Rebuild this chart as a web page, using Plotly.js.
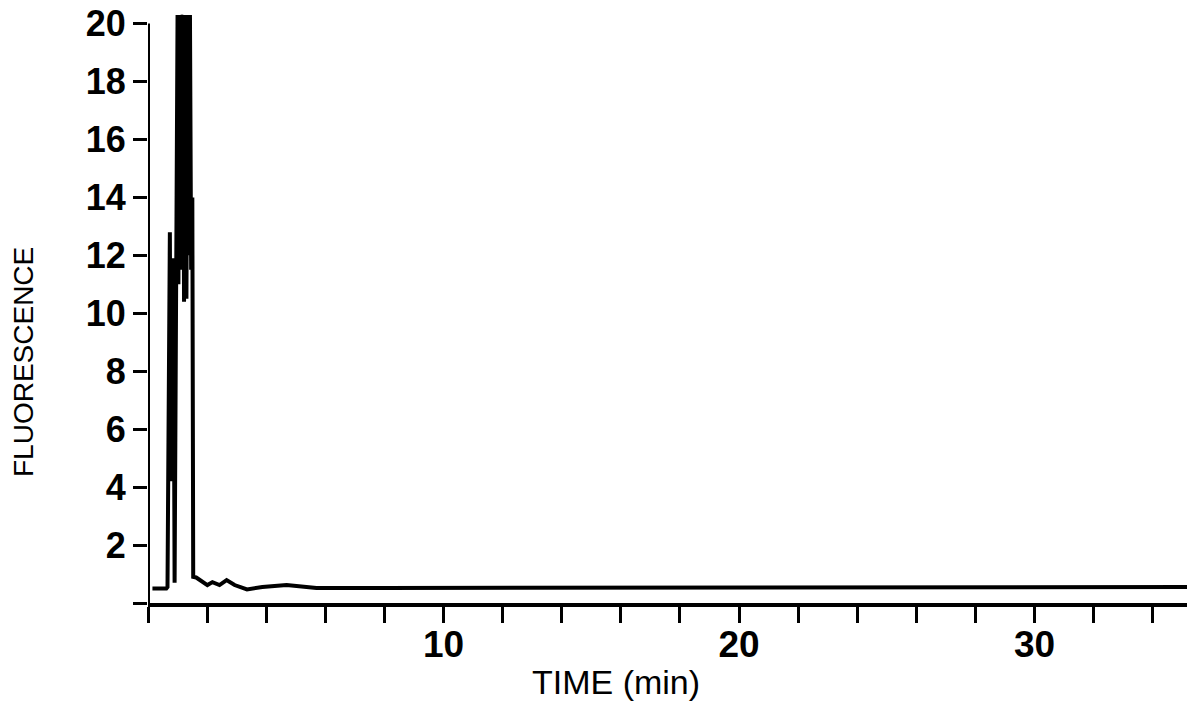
<!DOCTYPE html>
<html>
<head>
<meta charset="utf-8">
<script src="https://cdn.plot.ly/plotly-3.0.1.min.js"></script>
<style>html,body{margin:0;padding:0;background:#fff;}#chart{width:1187px;height:715px;}</style>
</head>
<body>
<div id="chart"></div>
<script>
// Time (min) and fluorescence
const timeMin = [0.15, 0.62, 0.66, 0.74, 0.77, 0.80, 0.83, 0.86, 0.90, 0.97, 1.00, 1.03, 1.06, 1.09, 1.12, 1.15, 1.18, 1.22, 1.26, 1.30, 1.34, 1.38, 1.42, 1.46, 1.50, 1.53,
  1.63, 2.01, 2.18, 2.42, 2.66, 2.93, 3.35, 3.87, 4.69, 5.13, 5.70, 8.0, 12.0, 16.0, 20.0, 24.0, 28.0, 32.0, 35.2];
const fluorescence = [0.5, 0.5, 0.55, 12.8, 4.2, 11.8, 5.5, 11.9, 0.7, 12.2, 20.3, 11.0, 20.3, 11.5, 20.3, 19.4, 20.3, 10.4, 20.3, 10.5, 20.3, 12.0, 20.3, 11.5, 14.0, 0.9,
  0.88, 0.62, 0.72, 0.62, 0.79, 0.62, 0.47, 0.55, 0.62, 0.58, 0.52, 0.52, 0.52, 0.53, 0.53, 0.54, 0.55, 0.55, 0.55];

const xTickVals = [0, 2, 4, 6, 8, 10, 12, 14, 16, 18, 20, 22, 24, 26, 28, 30, 32, 34];
const xTickText = ['', '', '', '', '', '10', '', '', '', '', '20', '', '', '', '', '30', '', ''];
const yTickVals = [0, 2, 4, 6, 8, 10, 12, 14, 16, 18, 20];
const yTickText = ['', '2', '4', '6', '8', '10', '12', '14', '16', '18', '20'];

const xTitle = 'TIME (min)';
const yTitle = 'FLUORESCENCE';

const trace = {
  x: timeMin,
  y: fluorescence,
  type: 'scatter',
  mode: 'lines',
  line: {color: '#000', width: 4, shape: 'linear'},
  hoverinfo: 'x+y',
  showlegend: false
};

const fontFam = 'Liberation Sans, Arial, Helvetica, sans-serif';

const layout = {
  width: 1187,
  height: 715,
  margin: {l: 148, r: 0, t: 12, b: 112, pad: 0},
  paper_bgcolor: '#fff',
  plot_bgcolor: '#fff',
  showlegend: false,
  xaxis: {
    range: [0, 35.16],
    tickmode: 'array',
    tickvals: xTickVals,
    ticktext: xTickText,
    ticks: 'outside',
    ticklen: 16,
    tickwidth: 3,
    tickcolor: '#000',
    showline: true,
    linecolor: '#000',
    linewidth: 4,
    showgrid: false,
    zeroline: false,
    ticklabelstandoff: -10,
    tickfont: {family: fontFam, size: 37, color: '#000', weight: 'bold'},
    fixedrange: true
  },
  yaxis: {
    range: [0, 20.4],
    tickmode: 'array',
    tickvals: yTickVals,
    ticktext: yTickText,
    ticks: 'outside',
    ticklen: 14,
    tickwidth: 3,
    tickcolor: '#000',
    showline: false,
    showgrid: false,
    zeroline: false,
    tickfont: {family: fontFam, size: 36, color: '#000', weight: 'bold'},
    fixedrange: true
  },
  shapes: [
    {type: 'line', xref: 'x', yref: 'y', x0: 0, x1: 0, y0: 0, y1: 20, line: {color: '#000', width: 4}}
  ],
  annotations: [
    {text: xTitle, xref: 'paper', yref: 'paper', x: (616 - 148) / 1039, y: -(682 - 603) / 591,
     xanchor: 'center', yanchor: 'middle', showarrow: false,
     font: {family: fontFam, size: 34, color: '#000'}},
    {text: yTitle, xref: 'paper', yref: 'paper', x: -(148 - 24) / 1039, y: (603 - 362) / 591,
     xanchor: 'center', yanchor: 'middle', showarrow: false, textangle: -90,
     font: {family: fontFam, size: 28, color: '#000'}}
  ]
};

Plotly.newPlot('chart', [trace], layout, {displayModeBar: false, staticPlot: true});
</script>
</body>
</html>
